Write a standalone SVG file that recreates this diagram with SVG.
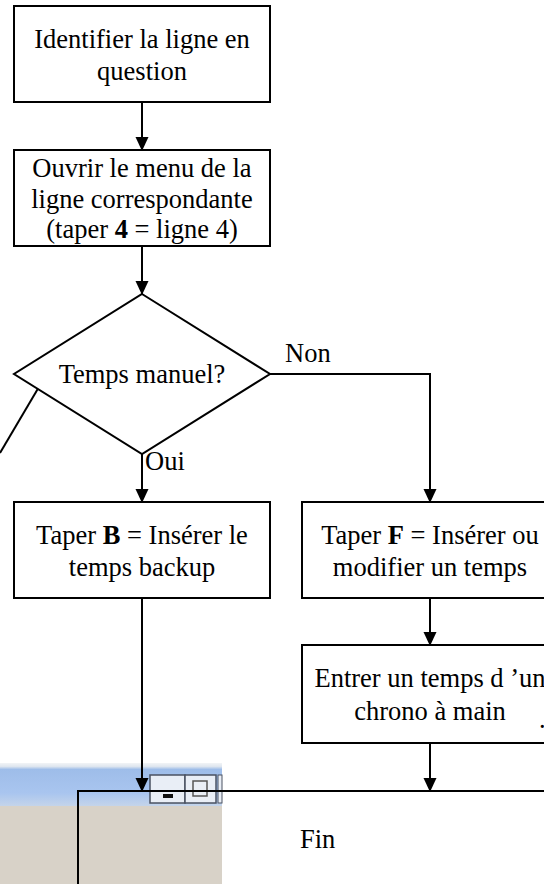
<svg xmlns="http://www.w3.org/2000/svg" width="544" height="884" viewBox="0 0 544 884">
<style>
.box{fill:#fff;stroke:#000;stroke-width:2}
.ln{fill:none;stroke:#000;stroke-width:2}
.t{font-family:"Liberation Serif","Times New Roman",serif;font-size:26.5px;fill:#000}
.c{text-anchor:middle}
.b{font-weight:bold}
</style>
<defs>
<marker id="ah" markerUnits="userSpaceOnUse" markerWidth="14" markerHeight="16" refX="13" refY="7" orient="auto">
<path d="M0,0.5 L14,7 L0,13.5 Z" fill="#000"/>
</marker>
<linearGradient id="tb" x1="0" y1="0" x2="0" y2="1">
<stop offset="0" stop-color="#f2f4f6"/>
<stop offset="0.08" stop-color="#dfe6ef"/>
<stop offset="0.15" stop-color="#9ebde9"/>
<stop offset="0.7" stop-color="#a9c5ef"/>
<stop offset="1" stop-color="#c4d4ea"/>
</linearGradient>
</defs>

<g id="screenshot">
<rect x="0" y="763" width="222" height="121" fill="#d8d2c8"/>
<rect x="0" y="763" width="222" height="43" fill="url(#tb)"/>
<rect x="150" y="775" width="35" height="28" fill="#e9eef6" stroke="#4a5262" stroke-width="1.5"/>
<rect x="163" y="794" width="10" height="4" fill="#111"/>
<rect x="185" y="775" width="31" height="28" fill="#e9eef6" stroke="#4a5262" stroke-width="1.5"/>
<rect x="193" y="781" width="14" height="15" fill="none" stroke="#555" stroke-width="1.5"/>
<rect x="218" y="775" width="4" height="28" fill="#e9eef6" stroke="#4a5262" stroke-width="1"/>
</g>

<g id="connectors">
<line class="ln" x1="142" y1="102" x2="142" y2="150" marker-end="url(#ah)"/>
<line class="ln" x1="142" y1="246" x2="142" y2="294" marker-end="url(#ah)"/>
<line class="ln" x1="142" y1="454" x2="142" y2="502" marker-end="url(#ah)"/>
<polyline class="ln" points="270,374 430,374 430,502" marker-end="url(#ah)"/>
<line class="ln" x1="430" y1="598" x2="430" y2="645" marker-end="url(#ah)"/>
<line class="ln" x1="430" y1="743" x2="430" y2="791" marker-end="url(#ah)"/>
<line class="ln" x1="142" y1="598" x2="142" y2="791" marker-end="url(#ah)"/>
<polyline class="ln" points="544,791 78,791 78,884"/>
<line class="ln" x1="46" y1="375" x2="0" y2="453"/>
<text class="t" x="145" y="470" font-size="24">Oui</text>
<text class="t" x="285" y="362">Non</text>
</g>

<g id="n1">
<rect class="box" x="14" y="6" width="256" height="96"/>
<text class="t c" x="142" y="48">Identifier la ligne en</text>
<text class="t c" x="142" y="80">question</text>
</g>

<g id="n2">
<rect class="box" x="14" y="150" width="256" height="96"/>
<text class="t c" x="142" y="177">Ouvrir le menu de la</text>
<text class="t c" x="142" y="208">ligne correspondante</text>
<text class="t c" x="142" y="238">(taper <tspan class="b">4</tspan> = ligne 4)</text>
</g>

<g id="n3">
<polygon class="box" points="142,294 270,374 142,454 14,374"/>
<text class="t c" x="142" y="383">Temps manuel?</text>
</g>

<g id="n4">
<rect class="box" x="14" y="502" width="256" height="96"/>
<text class="t c" x="142" y="544">Taper <tspan class="b">B</tspan> = Insérer le</text>
<text class="t c" x="142" y="576">temps backup</text>
</g>

<g id="n5">
<rect class="box" x="302" y="502" width="256" height="96"/>
<text class="t c" x="430" y="544">Taper <tspan class="b">F</tspan> = Insérer ou</text>
<text class="t c" x="430" y="576">modifier un temps</text>
</g>

<g id="n6">
<rect class="box" x="302" y="645" width="256" height="98"/>
<text class="t c" x="430" y="687">Entrer un temps d ’un</text>
<text class="t c" x="430" y="720">chrono à main</text>
<text class="t" x="539" y="728" font-size="16">.</text>
</g>

<g id="n7">
<text class="t" x="300" y="848">Fin</text>
</g>
</svg>
